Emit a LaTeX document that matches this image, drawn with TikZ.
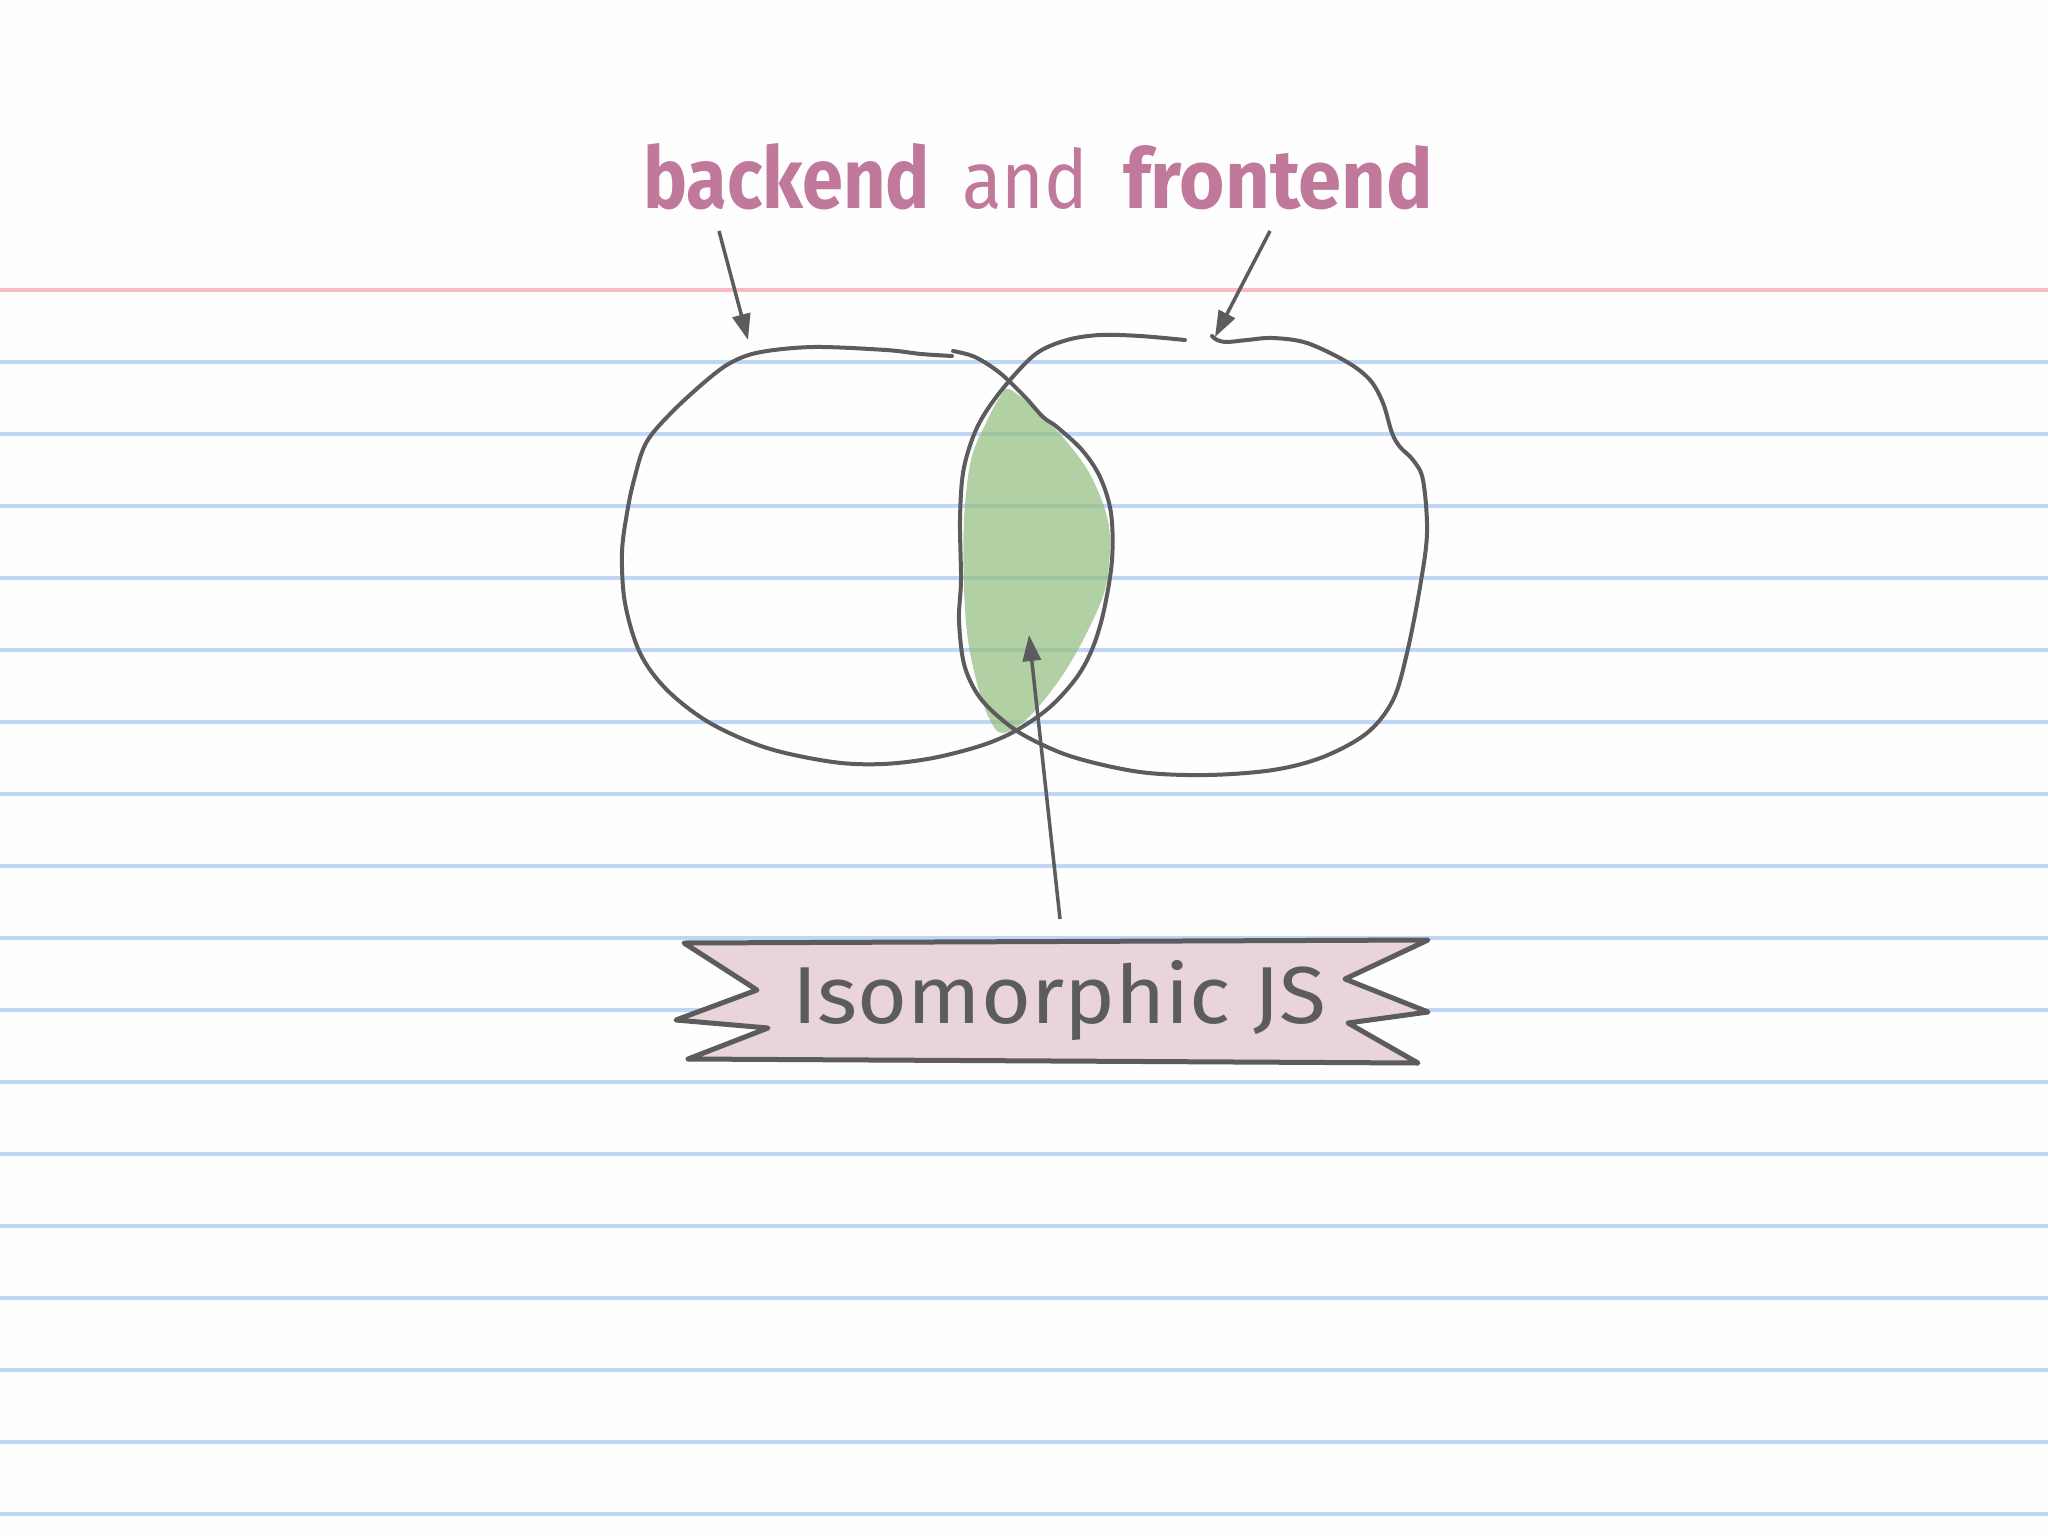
\documentclass[tikz,border=0pt]{standalone}
\usepackage{fontspec}
\newfontfamily\titlefont{Fira Sans}
\usetikzlibrary{arrows.meta}
\definecolor{paper}{RGB}{254,254,254}
\definecolor{ruleblue}{RGB}{191,214,246}
\definecolor{rulered}{RGB}{250,186,196}
\definecolor{ink}{RGB}{92,92,94}
\definecolor{titlepink}{RGB}{192,120,155}
\definecolor{leaf}{RGB}{145,189,126}
\definecolor{bannerpink}{RGB}{233,211,221}
\tikzset{
  ruling/.style={ruleblue, line width=4pt},
  blob/.style={ink, line width=4pt, line cap=round, line join=round},
  pointer/.style={ink, line width=3.5pt, -{Triangle[length=26pt,width=18pt]}},
  titletext/.style={anchor=base west, inner sep=0pt, text=titlepink},
}
\begin{document}
\begin{tikzpicture}[x=1pt,y=-1pt]
\fill[paper] (0,0) rectangle (2048,1536);
\useasboundingbox (0,0) rectangle (2048,1536);
% ruled paper
\draw[rulered, line width=4pt] (0,290) -- (2048,290);
\foreach \k in {0,...,16}{
  \draw[ruling] (0,362+72*\k) -- (2048,362+72*\k);
}
% overlap
\fill[leaf, fill opacity=0.7] plot[smooth cycle, tension=0.6] coordinates {
 (1011,390) (1046,420) (1071,447) (1093,480) (1109,527) (1107,580) (1093,620)
 (1064,673) (1029,717) (1003,733) (990,720) (978,687) (968,640) (964,587)
 (964,520) (971,460) (986,423) (1000,397)};
% left blob (backend)
\draw[blob] plot[smooth, tension=0.55] coordinates {
 (952,356) (921,354) (886,350) (814,347) (761,352) (732,362) (707,380) (671,413)
 (646,443) (634,480) (627,513) (622,553) (625,603) (640,653) (667,690) (710,723)
 (767,748) (833,762) (883,764) (933,758) (983,745) (1017,730) (1050,707)
 (1077,677) (1093,647) (1104,610) (1112,560) (1111,513) (1100,477) (1082,450)
 (1057,427) (1043,417) (1025,397) (1000,373) (975,357) (953,351)};
% right blob (frontend)
\draw[blob] plot[smooth, tension=0.55] coordinates {
 (1185,340) (1140,336) (1100,335) (1067,340) (1037,353) (1010,380) (987,410)
 (973,437) (963,473) (960,520) (961,580) (959,620) (964,664) (978,695) (1000,718)
 (1027,737) (1073,757) (1140,772) (1207,775) (1273,770) (1323,757) (1367,733)
 (1393,700) (1407,653) (1420,587) (1427,533) (1423,480) (1413,460) (1400,447)
 (1392,433) (1383,403) (1370,380) (1347,362) (1307,343) (1273,338) (1247,340)
 (1227,342) (1217,340) (1212,336)};
% title
\node[titletext] (tback) at (643,208) {\resizebox{287pt}{65pt}{\titlefont\bfseries backend}};
\node[titletext] (tand) at (962,208) {\resizebox{126pt}{61pt}{\titlefont and}};
\node[titletext] (tfront) at (1123,208) {\resizebox{310pt}{63pt}{\titlefont\bfseries frontend}};
% arrow end points
\coordinate (ltail) at (719,231);
\coordinate (lhead) at (748,340);
\coordinate (rtail) at (1270,231);
\coordinate (rhead) at (1215,337);
\coordinate (btail) at (1060,919);
\coordinate (bhead) at (1029,635);
\draw[pointer] (ltail) -- (lhead);
\draw[pointer] (rtail) -- (rhead);
\draw[pointer] (btail) -- (bhead);
% banner
\draw[ink, fill=bannerpink, line width=5pt, line join=round]
 (684,943) -- (757,990) -- (676,1020) -- (768,1028) -- (688,1059)
 -- (1418,1063) -- (1348,1023) -- (1428,1012) -- (1345,979) -- (1428,940) -- cycle;
\node[anchor=base west, inner sep=0pt, text=ink] (iso) at (792,1023)
 {\resizebox{534pt}{63pt}{\titlefont Isomorphic JS}};
\end{tikzpicture}
\end{document}
